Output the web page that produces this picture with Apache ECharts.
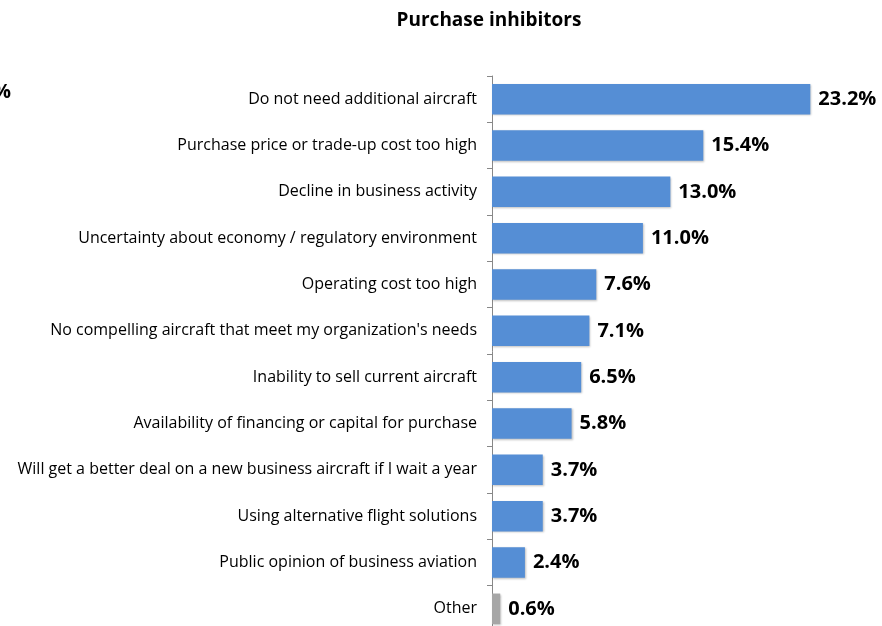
<!DOCTYPE html>
<html><head><meta charset="utf-8">
<script src="https://cdn.jsdelivr.net/npm/echarts@6/dist/echarts.min.js"></script>
<style>html,body{margin:0;padding:0;background:#fff}#c{width:882px;height:626px}</style>
</head><body><div id="c"></div>
<script>
const categories = [
  "Do not need additional aircraft",
  "Purchase price or trade-up cost too high",
  "Decline in business activity",
  "Uncertainty about economy / regulatory environment",
  "Operating cost too high",
  "No compelling aircraft that meet my organization's needs",
  "Inability to sell current aircraft",
  "Availability of financing or capital for purchase",
  "Will get a better deal on a new business aircraft if I wait a year",
  "Using alternative flight solutions",
  "Public opinion of business aviation",
  "Other"
];
const values = [23.2, 15.4, 13.0, 11.0, 7.6, 7.1, 6.5, 5.8, 3.7, 3.7, 2.4, 0.6];
const barColors = ["#558ED5","#558ED5","#558ED5","#558ED5","#558ED5","#558ED5","#558ED5","#558ED5","#558ED5","#558ED5","#558ED5","#A6A6A6"];

const font = "'Open Sans', 'Noto Sans', sans-serif";
const chart = echarts.init(document.getElementById('c'), null, {renderer:'canvas'});
chart.setOption({
  animation:false,
  title:{text:"Purchase inhibitors", left:484, top:6, textAlign:'center',
    textStyle:{fontFamily:font, fontSize:19, fontWeight:'bold', color:'#000'}},
  graphic:[{type:'text', left:-7, top:82, style:{text:'%', font:"bold 20px 'Open Sans', sans-serif", fill:'#000'}}],
  grid:{left:492, width:343, top:76, height:556, containLabel:false, outerBoundsMode:'none'},
  xAxis:{type:'value', min:0, max:25, show:false},
  yAxis:{type:'category', data:categories, inverse:true,
    axisLine:{lineStyle:{color:'#888', width:1}},
    axisTick:{show:true, length:5, alignWithLabel:false, lineStyle:{color:'#888'}},
    axisLabel:{margin:15, fontFamily:font, fontSize:16, color:'#000'}},
  series:[{type:'bar', data:values.map((v,i)=>({value:v, itemStyle:{color:barColors[i]}})),
    barWidth:'66%',
    itemStyle:{shadowColor:'rgba(0,0,0,0.25)', shadowBlur:2, shadowOffsetX:1, shadowOffsetY:1},
    label:{show:true, position:'right', distance:8, formatter:p=>p.value.toFixed(1)+'%',
      fontFamily:font, fontSize:20, fontWeight:'bold', color:'#000'}}]
});
</script></body></html>
